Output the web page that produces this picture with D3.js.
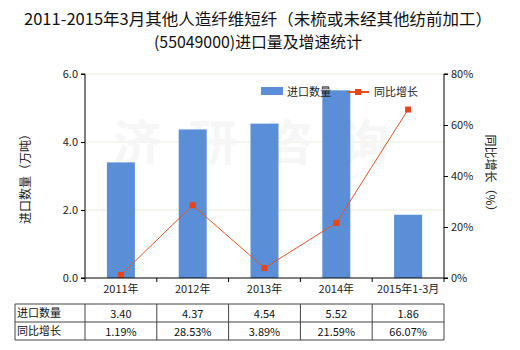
<!DOCTYPE html>
<html><head><meta charset="utf-8">
<script src="https://cdn.jsdelivr.net/npm/d3@7"></script>
<style>body{margin:0;background:#fff}svg{display:block;font-family:"Noto Sans CJK SC","DejaVu Sans",sans-serif}</style>
</head><body><svg id="c" width="520" height="350"></svg>
<script>
const categories = ["2011年","2012年","2013年","2014年","2015年1-3月"];
const importQty = [3.40,4.37,4.54,5.52,1.86];
const growth = [1.19,28.53,3.89,21.59,66.07];
const qtyLabels = ["3.40","4.37","4.54","5.52","1.86"];
const growthLabels = ["1.19%","28.53%","3.89%","21.59%","66.07%"];
const leftTicks = [0,2,4,6];
const rightTicks = [0,20,40,60,80];

const svg = d3.select("#c");
const L=85,R=444,T=74,B=278;
const x = d3.scaleBand().domain(categories).range([L,R]);
const yL = d3.scaleLinear().domain([0,6]).range([B,T]);
const yR = d3.scaleLinear().domain([0,80]).range([B,T]);
const font = "Noto Sans CJK SC, DejaVu Sans, sans-serif";

// title
svg.append("text").attr("x",258).attr("y",25).attr("text-anchor","middle").attr("font-size",16).attr("fill","#111")
  .attr("textLength",468).attr("lengthAdjust","spacingAndGlyphs").text("2011-2015年3月其他人造纤维短纤（未梳或未经其他纺前加工）");
svg.append("text").attr("x",258).attr("y",48).attr("text-anchor","middle").attr("font-size",16).attr("fill","#111")
  .attr("textLength",208).attr("lengthAdjust","spacingAndGlyphs").text("(55049000)进口量及增速统计");

// gridlines
svg.append("g").selectAll("line").data(leftTicks.filter(d=>d>0)).join("line")
  .attr("x1",L).attr("x2",R).attr("y1",d=>yL(d)).attr("y2",d=>yL(d)).attr("stroke","#ececd8").attr("stroke-width",1);

// watermark
svg.append("text").attr("x",265).attr("y",160).attr("text-anchor","middle").attr("font-size",48).attr("font-weight","bold")
  .attr("fill","#f6f6f6").attr("letter-spacing",28).text("济研咨询");

// bars
const bw = 28;
svg.append("g").selectAll("rect").data(importQty).join("rect")
  .attr("x",(d,i)=>x(categories[i])+x.bandwidth()/2-bw/2).attr("width",bw)
  .attr("y",d=>yL(d)).attr("height",d=>B-yL(d)).attr("fill","#5a8fd8");

// line
const line = d3.line().x((d,i)=>x(categories[i])+x.bandwidth()/2).y(d=>yR(d));
svg.append("path").datum(growth).attr("d",line).attr("fill","none").attr("stroke","#e2561f").attr("stroke-width",1);
svg.append("g").selectAll("rect").data(growth).join("rect")
  .attr("x",(d,i)=>x(categories[i])+x.bandwidth()/2-3).attr("y",d=>yR(d)-3).attr("width",6).attr("height",6).attr("fill","#e2461a");

// axes
const axL = d3.axisLeft(yL).tickValues(leftTicks).tickFormat(d3.format(".1f")).tickSize(4);
const gL = svg.append("g").attr("transform",`translate(${L},0)`).call(axL);
const axR = d3.axisRight(yR).tickValues(rightTicks).tickFormat(d=>d+"%").tickSize(4);
const gR = svg.append("g").attr("transform",`translate(${R},0)`).call(axR);
const axB = d3.axisBottom(x).tickSize(4);
const gB = svg.append("g").attr("transform",`translate(0,${B})`).call(axB);
[gL,gR,gB].forEach(g=>{g.select(".domain").attr("stroke","#000");g.selectAll(".tick line").attr("stroke","#000");
  g.selectAll("text").attr("font-family",font).attr("font-size",11).attr("fill","#222");});
gB.select(".domain").attr("d",`M${L},0H${R}`);
gB.selectAll(".tick line").remove();
gB.append("g").selectAll("line").data(d3.range(categories.length+1)).join("line")
  .attr("x1",i=>L+i*x.step()).attr("x2",i=>L+i*x.step()).attr("y1",0).attr("y2",4).attr("stroke","#000");
gB.selectAll(".tick text").attr("y",7);
gL.select(".domain").attr("d",`M-4,${T}H0V${B}H-4`);
gR.select(".domain").attr("d",`M4,${T}H0V${B}H4`);

// axis titles
svg.append("text").attr("transform","translate(30,176) rotate(-90)").attr("text-anchor","middle").attr("font-size",12).attr("fill","#222").text("进口数量（万吨）");
svg.append("text").attr("transform","translate(486,176) rotate(90)").attr("text-anchor","middle").attr("font-size",12).attr("fill","#222").text("同比增长（%）");

// legend
svg.append("rect").attr("x",261).attr("y",87).attr("width",22).attr("height",8).attr("fill","#5a8fd8");
svg.append("text").attr("x",287).attr("y",96).attr("font-size",11).attr("fill","#222").text("进口数量");
svg.append("line").attr("x1",347).attr("x2",369).attr("y1",92).attr("y2",92).attr("stroke","#e2561f").attr("stroke-width",2);
svg.append("rect").attr("x",355).attr("y",89).attr("width",6).attr("height",6).attr("fill","#e2461a");
svg.append("text").attr("x",374).attr("y",96).attr("font-size",11).attr("fill","#222").text("同比增长");

// table
const tT=304, rh=18, tL=15;
const tg = svg.append("g");
const rows = [["进口数量",qtyLabels],["同比增长",growthLabels]];
rows.forEach((r,ri)=>{
  const yy = tT+ri*rh;
  tg.append("text").attr("x",tL+2).attr("y",yy+13).attr("font-size",11).attr("fill","#111").text(r[0]);
  tg.selectAll(null).data(r[1]).join("text").attr("x",(d,i)=>x(categories[i])+x.bandwidth()/2).attr("y",yy+14)
    .attr("text-anchor","middle").attr("font-size",11).attr("fill","#111").attr("font-family",font).text(d=>d);
});
for(let k=0;k<=2;k++) tg.append("line").attr("x1",tL).attr("x2",R).attr("y1",tT+k*rh).attr("y2",tT+k*rh).attr("stroke","#444");
const vx = [tL].concat(d3.range(categories.length+1).map(i=>L+i*x.step()));
tg.selectAll("line.v").data(vx).join("line").attr("class","v").attr("x1",d=>d).attr("x2",d=>d).attr("y1",tT).attr("y2",tT+2*rh).attr("stroke","#444");
</script></body></html>
